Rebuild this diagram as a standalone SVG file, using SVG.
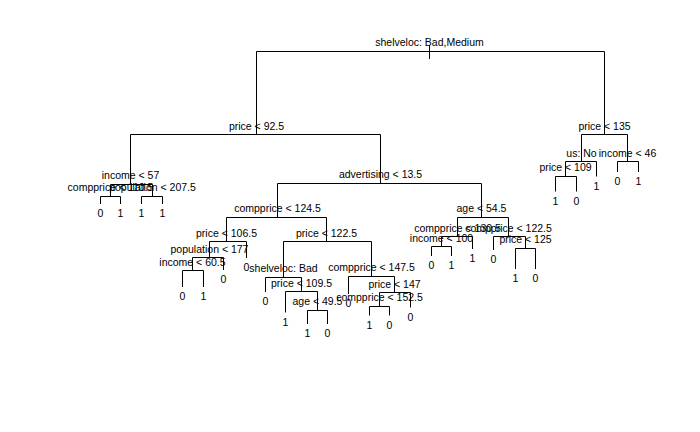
<svg xmlns="http://www.w3.org/2000/svg" width="700" height="432" viewBox="0 0 700 432">
<style>
text{font-family:"Liberation Sans",Arial,sans-serif;font-size:10.5px;fill:#000;text-anchor:middle}
.c path{fill:none;stroke:#000;stroke-width:1}
</style>
<rect width="700" height="432" fill="#fff"/>
<g class="c" id="connectors">
<path d="M429.5 45V59"/>
<path d="M256.5 134.5V51.5H604.5V134.5"/>
<path d="M130.5 184.5V134.5H380.5V183.5"/>
<path d="M110.5 196.5V184.5H152.5V196.5"/>
<path d="M100.5 204V196.5H120.5V204"/>
<path d="M141.5 204V196.5H162.5V204"/>
<path d="M277.5 217.5V183.5H481.5V217.5"/>
<path d="M226.5 241.5V217.5H326.5V241.5"/>
<path d="M209.5 257.5V241.5H246.5V258"/>
<path d="M192.5 270.5V257.5H223.5V270"/>
<path d="M182.5 287V270.5H203.5V287"/>
<path d="M283.5 277.5V241.5H371.5V276.5"/>
<path d="M265.5 292V277.5H301.5V291.5"/>
<path d="M285.5 312.5V291.5H317.5V310.5"/>
<path d="M307.5 324V310.5H327.5V324"/>
<path d="M348.5 294V276.5H394.5V292.5"/>
<path d="M379.5 306.5V292.5H410.5V307.5"/>
<path d="M369.5 315.5V306.5H389.5V315.5"/>
<path d="M457.5 236.5V217.5H508.5V236.5"/>
<path d="M441.5 246.5V236.5H472.5V249"/>
<path d="M431.5 256V246.5H451.5V256"/>
<path d="M493.5 250V236.5H525.5V248.5"/>
<path d="M515.5 269V248.5H535.5V269"/>
<path d="M581.5 161.5V134.5H627.5V161.5"/>
<path d="M565.5 176.5V161.5H596.5V176.5"/>
<path d="M555.5 191.5V176.5H576.5V191.5"/>
<path d="M617.5 172V161.5H638.5V172"/>
</g>
<g id="n1"><text x="429.5" y="46">shelveloc: Bad,Medium</text></g>
<g id="n2"><text x="256.5" y="129.5">price &lt; 92.5</text></g>
<g id="n3"><text x="604.5" y="129.5">price &lt; 135</text></g>
<g id="n4"><text x="130.5" y="179">income &lt; 57</text></g>
<g id="n5"><text x="380.5" y="178">advertising &lt; 13.5</text></g>
<g id="n8"><text x="110.5" y="191">compprice &lt; 110.5</text></g>
<g id="n9"><text x="152.5" y="191">population &lt; 207.5</text></g>
<g id="n10"><text x="277.5" y="212">compprice &lt; 124.5</text></g>
<g id="n11"><text x="481.5" y="212">age &lt; 54.5</text></g>
<g id="n20"><text x="226.5" y="236.5">price &lt; 106.5</text></g>
<g id="n21"><text x="326.5" y="236.5">price &lt; 122.5</text></g>
<g id="n40"><text x="209.5" y="252.5">population &lt; 177</text></g>
<g id="n80"><text x="192.5" y="265.5">income &lt; 60.5</text></g>
<g id="n42"><text x="283.5" y="272">shelveloc: Bad</text></g>
<g id="n85"><text x="301.5" y="286.5">price &lt; 109.5</text></g>
<g id="n171"><text x="317.5" y="305">age &lt; 49.5</text></g>
<g id="n43"><text x="371.5" y="271">compprice &lt; 147.5</text></g>
<g id="n87"><text x="394.5" y="287.5">price &lt; 147</text></g>
<g id="n174"><text x="379.5" y="301">compprice &lt; 152.5</text></g>
<g id="n22"><text x="457.5" y="231.5">compprice &lt; 130.5</text></g>
<g id="n44"><text x="441.5" y="241.5">income &lt; 100</text></g>
<g id="n23"><text x="508.5" y="231.5">compprice &lt; 122.5</text></g>
<g id="n47"><text x="525.5" y="243">price &lt; 125</text></g>
<g id="n6"><text x="581.5" y="156.5">us: No</text></g>
<g id="n12"><text x="565.5" y="170.5">price &lt; 109</text></g>
<g id="n7"><text x="627.5" y="156.5">income &lt; 46</text></g>
<g id="leaves">
<g id="l16"><text x="100.5" y="217">0</text></g>
<g id="l17"><text x="120.5" y="217">1</text></g>
<g id="l18"><text x="141.5" y="217">1</text></g>
<g id="l19"><text x="162.5" y="217">1</text></g>
<g id="l41"><text x="246.5" y="271">0</text></g>
<g id="l81"><text x="223.5" y="283">0</text></g>
<g id="l160"><text x="182.5" y="300">0</text></g>
<g id="l161"><text x="203.5" y="300">1</text></g>
<g id="l84"><text x="265.5" y="305">0</text></g>
<g id="l170"><text x="285.5" y="325.5">1</text></g>
<g id="l342"><text x="307.5" y="337">1</text></g>
<g id="l343"><text x="327.5" y="337">0</text></g>
<g id="l86"><text x="348.5" y="307">0</text></g>
<g id="l348"><text x="369.5" y="328.5">1</text></g>
<g id="l349"><text x="389.5" y="328.5">0</text></g>
<g id="l175"><text x="410.5" y="320.5">0</text></g>
<g id="l88"><text x="431.5" y="269">0</text></g>
<g id="l89"><text x="451.5" y="269">1</text></g>
<g id="l45"><text x="472.5" y="262">1</text></g>
<g id="l46"><text x="493.5" y="263">0</text></g>
<g id="l94"><text x="515.5" y="282">1</text></g>
<g id="l95"><text x="535.5" y="282">0</text></g>
<g id="l24"><text x="555.5" y="204.5">1</text></g>
<g id="l25"><text x="576.5" y="204.5">0</text></g>
<g id="l13"><text x="596.5" y="189.5">1</text></g>
<g id="l14"><text x="617.5" y="185">0</text></g>
<g id="l15"><text x="638.5" y="185">1</text></g>
</g>
</svg>
